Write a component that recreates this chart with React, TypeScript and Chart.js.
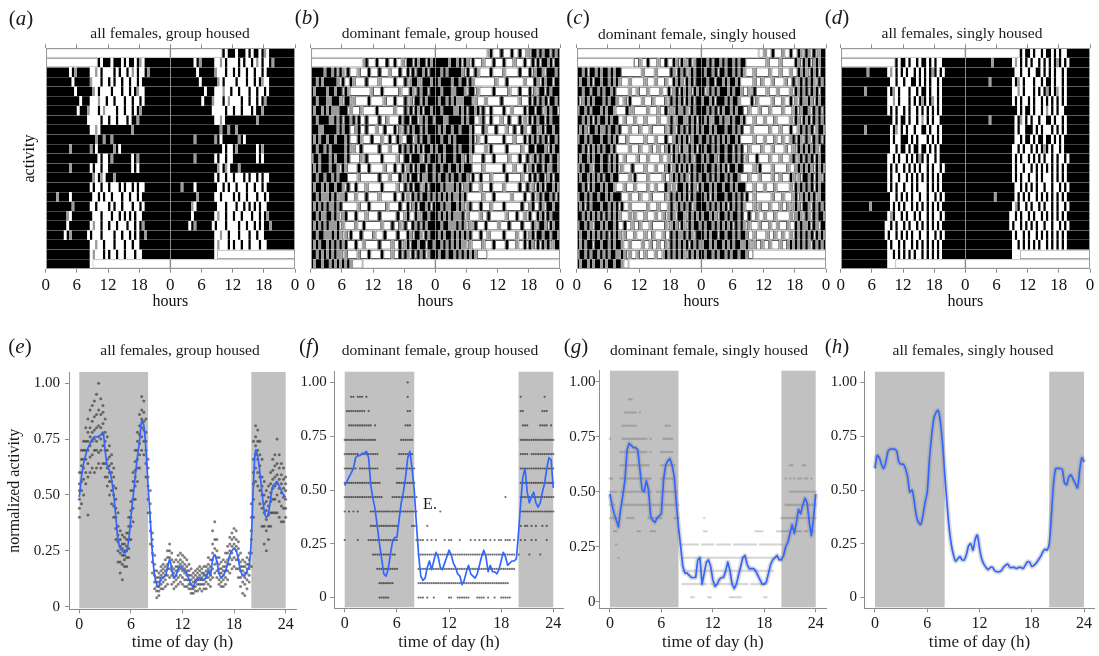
import React, { useEffect, useRef } from 'react';
import { Chart, registerables } from 'chart.js';

Chart.register(...registerables);

const SERIF = "'Liberation Serif', 'DejaVu Serif', serif";
Chart.defaults.font.family = SERIF;
Chart.defaults.color = '#1a1a1a';

/* ================= ACTOGRAMS (top row) ================= */
// each day: 6 groups of 8 half-hour bins ('#' black, '+' grey, '.' white, '_' no data)
const actoBinHours = 0.5;
const actoTickValues = [0, 6, 12, 18, 24, 30, 36, 42, 48];
const actoTickLabels = ['0', '6', '12', '18', '0', '6', '12', '18', '0'];
const actoDividers = [24];
const noDay = '________ ________ ________ ________ ________ ________';

const actoA = [
  '________ ________ ____#.## #.###.#. ##.#+.## ########',
  '######## #.#+#### #..+.#.. ..#.#..# .+.#..#+ ########',
  '######## ##.##### #+...#.. #.#..#.. #..#.### ########',
  '######## ###.#### ##+.#... .#...#.. #.#+..## ########',
  '######## #####.## #...+..# ..#...#. .#..#.## ########',
  '######## ####.### +...#.+. ...#..#. .#.#+### ########',
  '######## ######## .....#.. #..#...# .##+#### ########',
  '######## ######## #..+.### ######## #+###### ########',
  '######## ######## ###+##+# #+###### ######## ########',
  '######## #+###### #+#.#### ##+#.### ######## ########',
  '######## ######## ####.#.. #+###### #.#+#### ########',
  '######## #+###### #.#..#.. ######## #.#.#### ########',
  '######## ######## ##+.#+.# ##+##### ######## ########',
  '######## ######## #.#..#.. #...#.#. .#.#..## ########',
  '####+### #.###### ##..#.#. .#...#.. #..#.### ########',
  '######## ##+##### #..#.... #.#..#.. .#..#.## ########',
  '######## +.###### ##...#.. .#..#.#. #.#..### ########',
  '######## .####### #.+..#.. #..#...# ..#.#+## ########',
  '#######. #+###### .#...#.. ..#..#.. #.#.##+# ########',
  '######## ######## #..+..#. ..#...#. .#..#### ########',
  '######## ######## #.+...#. #..#..#. ..#..### ########',
  '######## ######## #.______ ________ ________ ________',
];

const actoB = [
  '________ ________ ____+#.. .#...#.. #..+.##. #+##.#+#',
  '#####+## +#.#+.#. ..+...#. ..#...+. ..#..#.# .##+#.##',
  '##+#+### ##+.#..# +....#.. ..+..... #...#.+# #+.###+#',
  '#+####+# #+##.#+. .......+ ...#.... ..+...#+ .#+##.##',
  '##+###++ ###+.##. +.....#. ....+... #...#.+. ##.#+###',
  '#+##+#+# +++###.+ ...+.... .#...... +...#.#. #+#.##+#',
  '##+####+ +#+#.##+ #.#..#.. ..#..+.. ..#.##.# #.+#+##.',
  '###++### ##+#+##. .+#..#.. .+..#... #.+.#.#+ ##.#+###',
  '#+#+##+# #+###+#. ..#+...# ...+..#. .#+..##. +#.##+##',
  '##+##+#+ #####+#. +..#.... ..#...+. ..#.#+#. #+#.##+#',
  '+##+###+ #+###+#. ...+.#.. ...#.... .+..##.# ##+.#+##',
  '#+#+###+ ##+.#+.. ..#...#. ....+... #..#.+#. #+##.##+',
  '##+##+## +#+###.. ..+..... ..#...+. ..#.+#.# #.#++##+',
  '#+##+#+# #+##+.#. .#...+.. ...#.... .+..#.#. ##.+#.##',
  '##+#+++# +#.++#.. .+...#.. ..+..... #..#.+.# +#.##+#+',
  '#+#+#+#+ +#+#.... ..+...#. .....+.. ..#..#.+ #.##+#.#',
  '##+#++## +#+.+#.. .#...+.. ..#..... .#..+#.. #+.##+##',
  '#+#+#+#+ ++#.+... .+..#... ...+...# ..+.#..# +#.#+###',
  '##+##+++ #+#+.+.# ...#.... +...#... .#...#+. ##+.#+##',
  '#+#+##+# +#+#+#.. .#..+... ..#....+ ..#.+#.# #+##.##+',
  '##+#+#+# +#++.+.. ..+...#. ...#...+ ..#.#+.# .#+#.+##',
  '#+##+##+ #+#+#+#+ ....____ ________ ________ ________',
];

const actoC = [
  '________ ________ ______.. +..#...+ ..#..#+. #+.#.+##',
  '##+#.##+ #+##+#+# #....... .+....+. ....#+.# +#.+#+##',
  '#+##+#.# #+##+#+# +...+... ..+...+. ..+..#+# +.#+#.##',
  '##+##.## +#+##+#. ....+..+ ...+.... +..#.+#. #+#+.#+#',
  '#.+#+#+# ##+#+##+ ..+.#... .+...+.. ..+.#+#+ #.#+#.##',
  '+##+#.## #+#+##+. ...#.+.. ...+...+ ..#.+.#+ +#+.#+##',
  '##+#+#.# +##+#+## ..+...+. ..+....+ ...+#.+# #+.#+#.#',
  '#+#+.##+ #++#+##+ #...+... +...+... ..+.#+.# +#.#+#+#',
  '+##+#+## #+##+#+# ...+.... ..+...+. ..#..+#+ #+#.+##+',
  '##+#.#+# +#+##+#. ....+... +...+..+ ..+#.#+. #+.#+#.#',
  '#+##+#+# #+##.#+# ..+....+ ...+.... +..+.#+# +#+#+.##',
  '+#+##+.# #+##+#+# .+...#.. ..+...+. ..+#.+#. #+#.#+##',
  '#+##+#+# +#.##+## ....+.#. ...+.... .+..+#+# +#+.#+#+',
  '##+#.#+# #+#+##+. ..+...+. ...+..+. ..#+.+.# #+#.#+.#',
  '+##+#+## +##+#+## #...+... +...+... ..+.#+#+ #+#.#+##',
  '#+#.#+## #+##+#+# .#..+... ...+...+ ...+#.+# +#+#.+##',
  '##+#+#+# +#.#+#+# +...+.+. ..+...+. .+.+#+.# #+.#+#+#',
  '+##+#+.# #+#+##+# ..#..+.. +...+... ..+.+#+. #+.#+##+',
  '#+##+#+# +#+#.#+# +.+...+. ..+..+.. .+..#+#+ +#.#+.##',
  '#+#+##.# #+##+#+# #+..+... .+..+..+ ..+.#+#+ #+#.#+#+',
  '+##+#+## +#+#+##+ +#+.+..+ ..+...+. .+#+#+#+ #+.#+#+#',
  '#+##+#+# #+#+##+# #+..____ ________ ________ ________',
];

const actoD = [
  '________ ________ _____#.# #.#..#.# #.#.#..# ########',
  '######## ##+##### ##.+.#.# .#..#.#. #.#+#.#. ########',
  '######## ######## ###..#.. #..##.#. #.#..#.# ########',
  '######## #+###### ##.#+.#. ..#..#.# #.#..#.# ########',
  '######## ######## ##..+.#. ..#.#.#+ #.#+.#.# ########',
  '######## ######## ##.#.#.. #.#..#.# .#.#.#.# ########',
  '######## ######## ####.#.# #.#..#.+ .#.#..## ########',
  '######## #+###### ###.#+.# .#..#..# #.#..#.# ########',
  '######## ######## ###.#..# ##.#.#.. .#.#.#.# ########',
  '######## ######## ###..#.# #.#.##.# #.#.#.## ########',
  '######## ######## ##..#.#. .#.#.#+# .#..#.## ########',
  '######## ######## ##.#.#.. #.#.#.#. .#.#..#. ########',
  '######## ######## ##.#..#. .#.#.#.# .#.#.#.# ########',
  '######## ######## ##.#.#.. #..#.#.. .#.#.#.# ########',
  '######## ######## ###..#.# .#.#..#. .#..#.#. ########',
  '######## ###+#### ###.#.#. #..#.#.# .#.#.#.# ########',
  '######## ######## ##.+#..# .#..#.#. .#.#..#. ########',
  '######## ######## #..#.#.. #.#..#.# .#.#.#.# ########',
  '######## ######## #.#..#.# .#.#..#. .#..#.#. ########',
  '######## ######## ##.#..#. #..#.#.# .#.#.#.# ########',
  '######## ######## ##..#.#. #.#.#..# .#.#.#.# ########',
  '######## ######## ##...___ ________ ________ ________',
];

/* ================= DAILY PROFILES (bottom row) ================= */
const profileStep = 0.25; // hours between samples
const nightBands = [[0, 8], [20, 24]];
const profXTicks = [0, 6, 12, 18, 24];
const profXLabels = ['0', '6', '12', '18', '24'];
const profYTicks = [0, 0.25, 0.5, 0.75, 1];
const profYLabels = ['0', '0.25', '0.50', '0.75', '1.00'];

// smoothed lines, one value per 0.25 h
const eLine = [
  0.49, 0.58, 0.64, 0.68, 0.71, 0.73, 0.75, 0.76, 0.76, 0.76, 0.77, 0.78,
  0.70, 0.63, 0.61, 0.57, 0.50, 0.40, 0.30, 0.26, 0.25, 0.24, 0.25, 0.30,
  0.40, 0.49, 0.58, 0.67, 0.74, 0.83, 0.81, 0.70, 0.54, 0.39, 0.24, 0.14,
  0.10, 0.09, 0.13, 0.13, 0.14, 0.17, 0.21, 0.17, 0.13, 0.14, 0.17, 0.18,
  0.17, 0.16, 0.15, 0.12, 0.10, 0.09, 0.11, 0.12, 0.13, 0.12, 0.12, 0.13,
  0.16, 0.14, 0.21, 0.23, 0.20, 0.15, 0.13, 0.14, 0.16, 0.19, 0.23, 0.25,
  0.26, 0.25, 0.21, 0.16, 0.14, 0.14, 0.16, 0.18, 0.30, 0.55, 0.70, 0.67,
  0.60, 0.51, 0.43, 0.40, 0.42, 0.48, 0.54, 0.55, 0.56, 0.54, 0.52, 0.50,
  0.49,
];
const fLine = [
  0.52, 0.54, 0.56, 0.58, 0.60, 0.65, 0.66, 0.66, 0.67, 0.67, 0.68, 0.65,
  0.52, 0.46, 0.41, 0.33, 0.25, 0.18, 0.11, 0.10, 0.13, 0.20, 0.26, 0.28,
  0.28, 0.36, 0.44, 0.49, 0.56, 0.65, 0.68, 0.60, 0.50, 0.34, 0.20, 0.10,
  0.08, 0.09, 0.14, 0.17, 0.13, 0.17, 0.21, 0.19, 0.14, 0.13, 0.16, 0.19,
  0.22, 0.20, 0.16, 0.14, 0.11, 0.10, 0.06, 0.08, 0.12, 0.15, 0.11, 0.10,
  0.09, 0.11, 0.15, 0.19, 0.22, 0.19, 0.12, 0.15, 0.12, 0.12, 0.11, 0.13,
  0.17, 0.21, 0.19, 0.15, 0.16, 0.17, 0.17, 0.18, 0.30, 0.44, 0.56, 0.60,
  0.49, 0.44, 0.47, 0.49, 0.44, 0.42, 0.44, 0.49, 0.53, 0.60, 0.65, 0.64,
  0.51,
];
const gLine = [
  0.49, 0.44, 0.40, 0.37, 0.34, 0.42, 0.48, 0.55, 0.69, 0.72, 0.71, 0.70,
  0.70, 0.69, 0.60, 0.51, 0.50, 0.55, 0.51, 0.39, 0.37, 0.36, 0.38, 0.39,
  0.40, 0.55, 0.62, 0.64, 0.65, 0.62, 0.57, 0.45, 0.34, 0.25, 0.16, 0.13,
  0.13, 0.12, 0.11, 0.11, 0.11, 0.19, 0.20, 0.08, 0.13, 0.18, 0.19, 0.16,
  0.10, 0.07, 0.08, 0.10, 0.11, 0.11, 0.14, 0.18, 0.14, 0.08, 0.06, 0.08,
  0.12, 0.16, 0.20, 0.21, 0.17, 0.15, 0.15, 0.15, 0.14, 0.12, 0.10, 0.08,
  0.08, 0.09, 0.13, 0.17, 0.19, 0.20, 0.21, 0.19, 0.19, 0.21, 0.25, 0.27,
  0.31, 0.35, 0.31, 0.36, 0.42, 0.40, 0.44, 0.47, 0.45, 0.36, 0.30, 0.38,
  0.49,
];
const hLine = [
  0.60, 0.66, 0.65, 0.62, 0.60, 0.63, 0.68, 0.69, 0.69, 0.69, 0.68, 0.63,
  0.62, 0.62, 0.60, 0.56, 0.49, 0.50, 0.45, 0.38, 0.35, 0.34, 0.38, 0.44,
  0.49, 0.64, 0.75, 0.83, 0.86, 0.87, 0.82, 0.72, 0.58, 0.45, 0.33, 0.25,
  0.20, 0.17, 0.18, 0.19, 0.175, 0.175, 0.20, 0.24, 0.25, 0.22, 0.27, 0.29,
  0.23, 0.18, 0.155, 0.14, 0.13, 0.14, 0.14, 0.125, 0.12, 0.12, 0.125, 0.14,
  0.15, 0.155, 0.14, 0.14, 0.14, 0.135, 0.14, 0.14, 0.135, 0.15, 0.165, 0.165,
  0.145, 0.15, 0.16, 0.175, 0.19, 0.21, 0.225, 0.22, 0.25, 0.38, 0.53, 0.60,
  0.60, 0.60, 0.595, 0.535, 0.525, 0.56, 0.57, 0.55, 0.53, 0.51, 0.59, 0.65,
  0.63,
];

// (e) raw points: one column every 0.25 h, values in hundredths
const eCloud = [
  [40, 44, 48, 52, 55, 60], [46, 52, 56, 60, 63, 66, 70], [50, 57, 62, 66, 70, 74], [55, 60, 66, 70, 74, 80],
  [41, 58, 64, 70, 74, 78, 84], [60, 67, 72, 76, 80, 88], [62, 68, 74, 78, 83, 90], [60, 70, 75, 79, 85, 92],
  [62, 70, 74, 80, 86, 95], [64, 69, 76, 81, 88, 100], [62, 70, 75, 80, 86, 93], [64, 72, 77, 82, 87, 90],
  [58, 64, 70, 74, 78, 84], [54, 58, 62, 66, 70, 76], [50, 56, 60, 63, 67, 72], [46, 52, 56, 60, 64, 68],
  [40, 45, 50, 54, 58, 62], [30, 35, 40, 44, 48, 53], [20, 25, 29, 32, 36, 42], [15, 20, 24, 27, 30, 34],
  [12, 19, 23, 26, 28, 32], [18, 21, 23, 25, 28, 31], [18, 22, 25, 27, 30, 33], [22, 26, 30, 33, 36, 40],
  [30, 36, 40, 43, 47, 52], [38, 44, 48, 52, 56, 60], [48, 54, 58, 61, 65, 70], [56, 62, 66, 70, 74, 78],
  [62, 68, 73, 77, 81, 86], [70, 76, 80, 84, 88, 94], [68, 74, 79, 83, 87, 92], [58, 64, 70, 74, 78, 84],
  [42, 48, 54, 58, 62, 66], [28, 34, 38, 42, 46, 52], [15, 20, 24, 27, 30, 33], [8, 11, 14, 16, 19, 23],
  [4, 7, 9, 11, 13, 16], [5, 7, 9, 11, 13, 15], [8, 10, 12, 14, 16, 18], [8, 11, 13, 15, 17, 19],
  [9, 12, 14, 16, 18, 21], [10, 14, 17, 19, 22, 25], [13, 17, 20, 22, 25, 28], [10, 14, 16, 18, 21, 24],
  [8, 11, 13, 15, 17, 20], [9, 12, 14, 16, 18, 21], [10, 13, 16, 18, 20, 23], [11, 14, 17, 19, 21, 24],
  [10, 13, 16, 18, 20, 23], [9, 12, 15, 17, 19, 22], [9, 12, 14, 16, 18, 21], [8, 10, 12, 14, 16, 19],
  [6, 8, 10, 12, 14, 17], [6, 8, 9, 11, 13, 15], [7, 9, 11, 12, 14, 16], [7, 10, 12, 13, 15, 17],
  [8, 10, 12, 14, 16, 18], [7, 10, 12, 13, 15, 17], [8, 10, 12, 14, 15, 18], [8, 11, 13, 14, 16, 18],
  [10, 13, 15, 17, 19, 22], [9, 12, 14, 16, 18, 21], [13, 17, 21, 24, 28, 34], [15, 19, 23, 26, 30, 38],
  [13, 16, 20, 22, 25, 30], [10, 12, 15, 17, 19, 22], [9, 11, 13, 15, 17, 20], [9, 12, 14, 16, 18, 21],
  [10, 13, 16, 18, 20, 24], [12, 16, 19, 21, 24, 27], [15, 19, 22, 25, 28, 31], [17, 21, 24, 27, 30, 33],
  [18, 22, 26, 28, 31, 35], [17, 21, 25, 27, 30, 34], [13, 17, 21, 23, 26, 29], [9, 13, 16, 18, 20, 24],
  [6, 11, 14, 16, 18, 21], [5, 10, 13, 15, 18, 20], [8, 12, 15, 17, 19, 22], [11, 14, 17, 19, 21, 24],
  [18, 24, 30, 34, 40, 46], [40, 48, 55, 60, 66, 74], [56, 62, 68, 72, 76, 81], [54, 60, 66, 70, 74, 79],
  [46, 52, 58, 63, 68, 74], [36, 44, 50, 54, 58, 66], [28, 36, 42, 46, 50, 56], [25, 34, 39, 43, 47, 52],
  [30, 36, 41, 45, 49, 54], [36, 42, 47, 51, 55, 60], [42, 48, 53, 57, 61, 66], [42, 48, 54, 58, 63, 68],
  [42, 50, 55, 59, 64, 75], [40, 47, 53, 57, 62, 68], [38, 45, 51, 55, 59, 64], [38, 44, 49, 53, 57, 62],
  [40, 44, 48, 52, 55, 58],
];

// (f) discrete activity levels; one string per level, groups of 4 quarter-hours per hour
const fLevels = [0, 0.067, 0.133, 0.2, 0.267, 0.333, 0.4, 0.467, 0.533, 0.6, 0.667, 0.733, 0.8, 0.867, 0.933, 1.0];
const fDots = [
  '.... .... .... .... xxxx x... .... .... ..xx x.x. .x.. .... xx.. xxxx xx.. .xxx x.x. .x.. xxxx x... .... .... .... .... .',
  '.... .... .... .... xxxx xxx. .... .... ..xx xxxx xxxx xxxx xxxx xxxx xxxx xxxx xxxx xxxx xxxx .... .... .... .... .... .',
  '.... .... .... ...x xxxx xxxx x... .... ..xx xxxx xxxx xxxx xxxx xxxx xxxx xxxx xxxx xxxx xxxx xxx. .... .... .... .... .',
  '.... .... .... .xxx xxxx xxxx .... .... ..xx xxxx xxxx xxxx xxxx xxxx xxxx xxxx xxxx xxxx xxxx xxx. x... .x.. ..x. .... .',
  'x... ..x. ...x xxxx xxxx xxxx x... .... .xxx x.x. x.x. ..x. xx.. .x.. ..x. x.x. xx.x .x.x x.xx x.x. .x.x ..x. x... .x.. .',
  '.... .... .... xxxx xxxx xxxx x... ...x xx.. ..x. .... .... .... .... .... .... .... .... .... .... .x.x x.x. x..x .x.. .',
  'x.x. x.x. .... xxxx xxxx xxxx xxxx xxxx xx.. .... .... x... .... .... .... .... .... .... .... .... .xxx xxxx xxxx xxxx x',
  'xxxx xxxx xxxx xxxx xx.. ..xx xxxx xxxx xx.. .... .... .... .... .... .... .... .... .... ..x. .... .xxx xxxx xxxx xxxx x',
  'xxxx xxxx xxxx xxxx x... .... xxxx xxxx x... .... .... .... .... .... .... .... .... .... .... .... .xxx xxxx xxxx xxxx x',
  'xxxx xx.x xxxx xxxx .... .... xxxx xxxx x... .... .... .... .... .... .... .... .... .... .... .... .xxx xxxx xxxx xxxx x',
  'xxxx xxx. xxxx xxxx .... .... .xxx xxxx .... .... .... .... .... .... .... .... .... .... .... .... .xxx x.xx xxxx xxxx x',
  'xxxx xxxx xxxx xxx. .... .... ..xx xxxx .... .... .... .... .... .... .... .... .... .... .... .... .xxx xxxx xxxx xxxx x',
  '..xx xxxx xxxx x.x. .... .... .... xxx. .... .... .... .... .... .... .... .... .... .... .... .... ..xx x... ..xx xx.x .',
  '.xxx xxxx xx.x .... .... .... .... .xx. .... .... .... .... .... .... .... .... .... .... .... .... .xx. .... ...x xx.. .',
  '...x x.xx x.x. .... .... .... .... .x.. .... .... .... .... .... .... .... .... .... .... .... .... .x.. .... .... x... .',
  '.... .... .... .... .... .... .... .x.. .... .... .... .... .... .... .... .... .... .... .... .... .... .... .... .... .',
];

// (g) discrete activity levels
const gLevels = [0.02, 0.08, 0.14, 0.2, 0.26, 0.32, 0.38, 0.44, 0.5, 0.56, 0.62, 0.68, 0.74, 0.8, 0.86, 0.92];
const gDots = [
  '.... .... .... .... .... .... .... .... .... ..xx .... ..xx .... .... xxxx xx.. .... .... xx.. .... .... .... .... .... .',
  '.... .... .... .... .... .... .... .... ..xx xxxx xxxx xx.x xxxx xxxx xxxx xxxx x.xx xxxx xx.. .... .... .... .... .... .',
  '.... .... .... .... .... .... .... .... ..xx xxxx xxxx xxxx xxxx xxxx xxxx xxxx xxxx xxxx xxxx x... .... .... .... .... .',
  '.... x... .... .... .... .... .... .... ..xx xxxx xxxx xxxx xxxx xxxx xxxx xxxx xxxx xxxx xxxx xxxx x... .... .... .... .',
  '...x .... .... .... .... .... .... .... .xxx xxxx xx.x xxxx x.xx xxxx x.xx xxxx xxxx x.xx xxxx xxxx x... .... .... .... .',
  '..xx .... .... .xx. ...x xx.. .... .... x... .... .... xx.. .... .... .... .... .... xxxx .... ..xx xxxx x.xx xx.x x.xx .',
  'xxxx x... xxxx .... ..xx xxxx x... ..xx x... .... .... x... .... .... .... .... .... .... .... .... xxxx xxxx xxxx xxxx x',
  'xxx. ..xx xxxx xxxx xxxx xxxx xxxx xxxx x... .... .... .... .... .... .... .... .... .... .... .... ..xx xxxx xxxx xxxx x',
  'xxxx .xxx xxxx xxxx xxxx ..xx xxxx xxxx .... .... .... .... .... .... .... .... .... .... .... .... .... xxxx xxxx xxxx x',
  'xx.. .xxx xxxx xxxx xxxx .... xxxx xxx. .... .... .... .... .... .... .... .... .... .... .... .... ..x. x.x. xx.x x.x. .',
  '.... .xxx xxxx xxxx xxx. .... xxxx xxx. .... .... .... .... .... .... .... .... .... .... .... .... .... xx.. ..xx .... .',
  '.... .xxx xxxx xxxx xx.x .... xxxx xx.. .... .... .... .... .... .... .... .... .... .... .... .... .... .... .... .... .',
  'x... ..xx xxxx xxxx xx.x .... .xxx xx.. .... .... .... .... .... .... .... .... .... .... .... .... .... .... .... .... .',
  '.... ..xx xxxx x... .... .... ..xx x... .... .... .... .... .... .... .... .... .... .... .... .... .... .... .... .... .',
  '.... ...x xxxx x.x. .... .... .... .... .... .... .... .... .... .... .... .... .... .... .... .... .... .... .... .... .',
  '.... .... .xx. .... .... .... .... .... .... .... .... .... .... .... .... .... .... .... .... .... .... .... .... .... .',
];

const topTitles = [
  { text: 'all females, group housed', x: 170, y: 33 },
  { text: 'dominant female, group housed', x: 440, y: 33 },
  { text: 'dominant female, singly housed', x: 697, y: 34 },
  { text: 'all females, singly housed', x: 962, y: 33 },
];
const bottomTitles = [
  { text: 'all females, group housed', x: 180, y: 350 },
  { text: 'dominant female, group housed', x: 440, y: 350 },
  { text: 'dominant female, singly housed', x: 709, y: 350 },
  { text: 'all females, singly housed', x: 973, y: 350 },
];
const panelLabels = [
  { t: 'a', x: 21, y: 18 }, { t: 'b', x: 307, y: 17 }, { t: 'c', x: 578, y: 17 }, { t: 'd', x: 837, y: 17 },
  { t: 'e', x: 20, y: 346 }, { t: 'f', x: 309, y: 346 }, { t: 'g', x: 576, y: 346 }, { t: 'h', x: 837, y: 346 },
];

/* ================= helpers ================= */
const axisGrey = '#8c8c8c';

type Run = { x: [number, number]; y: string };

function addRuns(day: string, offset: number, label: string, runs: Record<string, Run[]>) {
  const cells: { k: string; h: number }[] = [];
  day.trim().split(/\s+/).forEach((grp, g) => {
    grp.split('').forEach((k, c) => cells.push({ k, h: (g * 8 + c) * actoBinHours }));
  });
  let i = 0;
  while (i < cells.length) {
    let j = i + 1;
    while (j < cells.length && cells[j].k === cells[i].k) j++;
    const bucket = runs[cells[i].k];
    if (bucket) bucket.push({ x: [offset + cells[i].h, offset + cells[j - 1].h + actoBinHours], y: label });
    i = j;
  }
}

const actoFrame = {
  id: 'actoFrame',
  afterDatasetsDraw(chart: any) {
    const { ctx, chartArea: a } = chart;
    const xs = chart.scales.x;
    ctx.save();
    ctx.strokeStyle = axisGrey;
    ctx.lineWidth = 1;
    actoDividers.forEach((h) => {
      const px = Math.round(xs.getPixelForValue(h)) + 0.5;
      ctx.beginPath();
      ctx.moveTo(px, a.top);
      ctx.lineTo(px, a.bottom);
      ctx.stroke();
    });
    ctx.strokeStyle = '#9a9a9a';
    ctx.strokeRect(Math.round(a.left) + 0.5, Math.round(a.top) + 0.5, Math.round(a.right - a.left) - 1, Math.round(a.bottom - a.top));
    ctx.restore();
  },
};

function actoConfig(days: string[], yTitle: string, boxed: boolean) {
  const rows = days.length + 1;
  const rowLabels = Array.from({ length: rows }, (_, r) => `row ${r + 1}`);
  const all = [noDay, ...days, noDay];
  const runs: Record<string, Run[]> = { '#': [], '+': [], '.': [], '_': [] };
  for (let r = 0; r < rows; r++) {
    addRuns(all[r], 0, rowLabels[r], runs);
    addRuns(all[r + 1], 24, rowLabels[r], runs);
  }
  const common = { grouped: false, barPercentage: 0.975, categoryPercentage: 1, borderSkipped: false };
  const xTicks = (s: any) => { s.ticks = actoTickValues.map((v) => ({ value: v })); };
  return {
    type: 'bar',
    data: {
      labels: rowLabels,
      datasets: [
        { ...common, data: runs['_'], backgroundColor: '#ffffff', borderColor: '#a8a8a8', borderWidth: 1 },
        { ...common, data: runs['.'], backgroundColor: '#ffffff', borderColor: '#5a5a5a', borderWidth: boxed ? 1 : 0 },
        { ...common, data: runs['+'], backgroundColor: '#9c9c9c', borderWidth: 0 },
        { ...common, data: runs['#'], backgroundColor: '#000000', borderWidth: 0 },
      ],
    },
    options: {
      indexAxis: 'y',
      animation: false,
      responsive: false,
      events: [],
      layout: { padding: { left: 0, right: 8, top: 0, bottom: 0 } },
      plugins: { legend: { display: false }, tooltip: { enabled: false } },
      scales: {
        x: {
          type: 'linear', position: 'bottom', min: 0, max: 48,
          afterBuildTicks: xTicks,
          ticks: { callback: (_v: any, i: number) => actoTickLabels[i], font: { size: 17 }, color: '#111', padding: 3, maxRotation: 0, autoSkip: false },
          grid: { display: true, drawOnChartArea: false, drawTicks: true, tickLength: 4, color: axisGrey },
          border: { display: false },
          title: { display: true, text: 'hours', font: { size: 16 }, color: '#111', padding: { top: 0, bottom: 8.7 } },
          afterFit: (s: any) => { s.height = 51.3; },
        },
        xTop: {
          axis: 'x', type: 'linear', position: 'top', min: 0, max: 48,
          afterBuildTicks: xTicks,
          ticks: { display: false },
          grid: { display: true, drawOnChartArea: false, drawTicks: true, tickLength: 4, color: axisGrey },
          border: { display: false },
          afterFit: (s: any) => { s.height = 48.3; },
        },
        y: {
          type: 'category', offset: true,
          ticks: { display: false },
          grid: { display: false },
          border: { display: false },
          title: { display: !!yTitle, text: yTitle, font: { size: 16 }, color: '#111', padding: { top: 20.4, bottom: 0 } },
          afterFit: (s: any) => { s.width = 45.7; },
        },
      },
    },
    plugins: [actoFrame],
  };
}

const nightShade = {
  id: 'nightShade',
  beforeDatasetsDraw(chart: any) {
    const { ctx, chartArea: a } = chart;
    const xs = chart.scales.x;
    ctx.save();
    ctx.fillStyle = '#c1c1c1';
    nightBands.forEach(([s, e]) => {
      const x0 = xs.getPixelForValue(s);
      const x1 = xs.getPixelForValue(e);
      ctx.fillRect(x0, a.top, x1 - x0, a.bottom - a.top - 1);
    });
    ctx.restore();
  },
};

function linePoints(vals: number[]) {
  return vals.map((v, i) => ({ x: i * profileStep, y: v }));
}
function cloudPoints(cols: number[][]) {
  const pts: { x: number; y: number }[] = [];
  cols.forEach((col, i) => col.forEach((v) => pts.push({ x: i * profileStep, y: v / 100 })));
  return pts;
}
function levelPoints(rows: string[], levels: number[]) {
  const pts: { x: number; y: number }[] = [];
  rows.forEach((row, k) => {
    row.trim().split(/\s+/).forEach((grp, h) => {
      grp.split('').forEach((c, q) => {
        if (c === 'x') pts.push({ x: h + q * profileStep, y: levels[k] });
      });
    });
  });
  return pts;
}

type Profile = {
  left: number; width: number; yW: number; padTop: number; padRight: number; xH: number;
  yMin: number; yMax: number; yPad: number; line: number[]; tension: number; ribbon: boolean;
  dots: { x: number; y: number }[]; dotR: number; dotColor: string; yTitle: string;
};

const profiles: Profile[] = [
  { left: 0, width: 300, yW: 69, padTop: 42, padRight: 2.3, xH: 46.7, yMin: -0.012, yMax: 1.05, yPad: 5,
    line: eLine, tension: 0.35, ribbon: false, dots: cloudPoints(eCloud), dotR: 1.5, dotColor: 'rgba(25,25,25,0.55)', yTitle: 'normalized activity' },
  { left: 290, width: 280, yW: 44.3, padTop: 41.7, padRight: 6.3, xH: 47.7, yMin: -0.05, yMax: 1.05, yPad: 3.6,
    line: fLine, tension: 0, ribbon: false, dots: levelPoints(fDots, fLevels), dotR: 1.1, dotColor: 'rgba(0,0,0,0.55)', yTitle: '' },
  { left: 560, width: 270, yW: 39.6, padTop: 40.7, padRight: 1.3, xH: 47.7, yMin: -0.03, yMax: 1.05, yPad: 0,
    line: gLine, tension: 0, ribbon: true, dots: levelPoints(gDots, gLevels), dotR: 1.3, dotColor: 'rgba(0,0,0,0.15)', yTitle: '' },
  { left: 820, width: 279, yW: 44.5, padTop: 41.7, padRight: 4.5, xH: 47.7, yMin: -0.05, yMax: 1.05, yPad: 3.6,
    line: hLine, tension: 0.3, ribbon: true, dots: [], dotR: 1, dotColor: 'rgba(0,0,0,0.1)', yTitle: '' },
];

function profileConfig(p: Profile) {
  const pts = linePoints(p.line);
  const datasets: any[] = [
    { data: pts, showLine: true, borderColor: '#3366ff', borderWidth: 1.7, pointRadius: 0, tension: p.tension, fill: false, borderJoinStyle: 'round' },
  ];
  if (p.ribbon) {
    datasets.push({ data: pts, showLine: true, borderColor: 'rgba(140,140,140,0.32)', borderWidth: 5, pointRadius: 0, tension: p.tension, fill: false, borderJoinStyle: 'round' });
  }
  if (p.dots.length) {
    datasets.push({ data: p.dots, showLine: false, pointRadius: p.dotR, pointBackgroundColor: p.dotColor, pointBorderWidth: 0 });
  }
  return {
    type: 'scatter',
    data: { datasets },
    options: {
      animation: false,
      responsive: false,
      events: [],
      layout: { padding: { top: p.padTop, right: p.padRight, left: 0, bottom: 0 } },
      plugins: { legend: { display: false }, tooltip: { enabled: false } },
      scales: {
        x: {
          type: 'linear', min: -1.2, max: 25.2,
          afterBuildTicks: (s: any) => { s.ticks = profXTicks.map((v) => ({ value: v })); },
          ticks: { callback: (_v: any, i: number) => profXLabels[i], font: { size: 16 }, color: '#1a1a1a', padding: 2, maxRotation: 0, autoSkip: false },
          grid: { drawOnChartArea: false, drawTicks: true, tickLength: 4, color: axisGrey },
          border: { display: true, color: axisGrey, width: 1 },
          title: { display: true, text: 'time of day (h)', font: { size: 17 }, color: '#1a1a1a', padding: { top: 0, bottom: 2.8 } },
          afterFit: (s: any) => { s.height = p.xH; },
        },
        y: {
          type: 'linear', min: p.yMin, max: p.yMax,
          afterBuildTicks: (s: any) => { s.ticks = profYTicks.map((v) => ({ value: v })); },
          ticks: { callback: (_v: any, i: number) => profYLabels[i], font: { size: 15 }, color: '#1a1a1a', padding: p.yPad },
          grid: { drawOnChartArea: false, drawTicks: true, tickLength: 4, color: axisGrey },
          border: { display: true, color: axisGrey, width: 1 },
          title: { display: !!p.yTitle, text: p.yTitle, font: { size: 16 }, color: '#1a1a1a', padding: { top: 5.4, bottom: 0 } },
          afterFit: (s: any) => { s.width = p.yW; },
        },
      },
    },
    plugins: [nightShade],
  };
}

function ChartCanvas({ left, top, width, height, make }: { left: number; top: number; width: number; height: number; make: () => any }) {
  const ref = useRef<HTMLCanvasElement | null>(null);
  useEffect(() => {
    const c = ref.current;
    if (!c) return;
    const chart = new Chart(c, make());
    return () => chart.destroy();
  }, []);
  return <canvas ref={ref} width={width} height={height} style={{ position: 'absolute', left, top, width, height }} />;
}

function Label({ x, y, size, children }: any) {
  return (
    <div style={{ position: 'absolute', left: x, top: y, transform: 'translate(-50%, -50%)', fontSize: size, lineHeight: 1, whiteSpace: 'nowrap', color: '#1a1a1a' }}>
      {children}
    </div>
  );
}

const actoPanels = [
  { days: actoA, left: 0, yTitle: 'activity', boxed: false },
  { days: actoB, left: 265, yTitle: '', boxed: true },
  { days: actoC, left: 531, yTitle: '', boxed: true },
  { days: actoD, left: 795, yTitle: '', boxed: false },
];

export default function App() {
  return (
    <div style={{ position: 'fixed', left: 0, top: 0, width: 1099, height: 656, overflow: 'hidden', background: '#ffffff', fontFamily: SERIF }}>
      {actoPanels.map((p, i) => (
        <ChartCanvas key={`a${i}`} left={p.left} top={0} width={303} height={320} make={() => actoConfig(p.days, p.yTitle, p.boxed)} />
      ))}
      {profiles.map((p, i) => (
        <ChartCanvas key={`p${i}`} left={p.left} top={330} width={p.width} height={326} make={() => profileConfig(p)} />
      ))}
      {topTitles.map((t, i) => (
        <Label key={`tt${i}`} x={t.x} y={t.y} size={15.5}>{t.text}</Label>
      ))}
      {bottomTitles.map((t, i) => (
        <Label key={`bt${i}`} x={t.x} y={t.y} size={15.5}>{t.text}</Label>
      ))}
      {panelLabels.map((l, i) => (
        <Label key={`pl${i}`} x={l.x} y={l.y} size={21}>
          (<span style={{ fontStyle: 'italic' }}>{l.t}</span>)
        </Label>
      ))}
      <Label x={430} y={504} size={16}>E.</Label>
    </div>
  );
}
